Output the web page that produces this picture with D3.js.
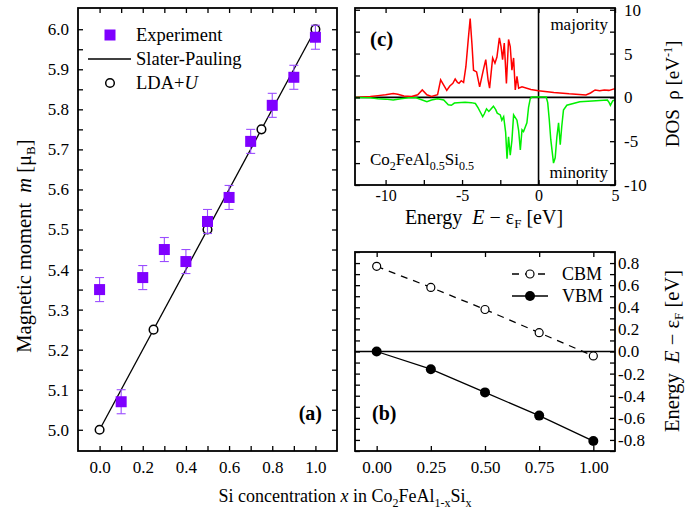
<!DOCTYPE html>
<html>
<head>
<meta charset="utf-8">
<script src="https://cdn.jsdelivr.net/npm/d3@7"></script>
<style>
  body { margin: 0; background: #fff; }
  text { font-family: 'Liberation Serif', 'Times New Roman', serif; }
</style>
</head>
<body>
<svg id="fig" width="687" height="518"></svg>
<script>
// ---- data ----
// (a) magnetic moment vs Si concentration
let expX = [0, 0.1, 0.2, 0.3, 0.4, 0.5, 0.6, 0.7, 0.8, 0.9, 1.0];
let expM = [5.35, 5.07, 5.38, 5.45, 5.42, 5.52, 5.58, 5.72, 5.81, 5.88, 5.98];
let expErr = [0.03, 0.03, 0.03, 0.03, 0.03, 0.03, 0.03, 0.03, 0.03, 0.03, 0.03];
let ldaX = [0, 0.25, 0.5, 0.75, 1.0];
let ldaM = [5.0, 5.25, 5.5, 5.75, 6.0];
let spX = [0, 1];
let spM = [5, 6];

// (b) band edges
let gapX = [0, 0.25, 0.5, 0.75, 1.0];
let cbm = [0.77, 0.58, 0.38, 0.17, -0.04];
let vbm = [0.0, -0.16, -0.37, -0.58, -0.81];

// (c) DOS of Co2FeAl0.5Si0.5
let majE = [-12, -11, -10.5, -10, -9.5, -9.2, -8.8, -8.3, -7.9, -7.6, -7.3, -7.0, -6.6, -6.4, -6.2, -6.0,
  -5.8, -5.6, -5.45, -5.3, -5.2, -5.05, -4.9, -4.75, -4.6, -4.47, -4.35, -4.25, -4.05, -3.85, -3.6, -3.45,
  -3.3, -3.2, -3.0, -2.85, -2.72, -2.56, -2.45, -2.35, -2.24, -2.1, -1.96, -1.85, -1.74, -1.63, -1.52,
  -1.41, -1.3, -1.08, -0.5, 0, 1.0, 2.0, 3.1, 3.4, 3.7, 4.0, 4.3, 4.6, 5.0];
let majD = [0.0, 0.1, 0.2, 0.3, 0.45, 0.35, 0.15, 0.1, 0.3, 0.85, 0.3, 0.1, 0.3, 2.0, 1.4, 0.8,
  1.3, 1.6, 2.1, 1.7, 1.6, 1.9, 1.7, 3.5, 6.5, 9.0, 6.0, 3.1, 2.9, 1.2, 3.2, 4.3,
  2.0, 1.05, 4.5, 3.9, 4.6, 6.8, 5.8, 4.3, 6.2, 1.6, 6.6, 5.8, 3.1, 4.5, 0.85,
  2.4, 1.05, 1.2, 0.9, 0.75, 0.55, 0.4, 0.28, 0.5, 0.85, 0.75, 0.85, 0.8, 1.0];
let minE = [-12, -11, -10.5, -10, -9.5, -9, -8.5, -8, -7.6, -7.3, -7.0, -6.6, -6.2, -5.9, -5.7, -5.5,
  -5.3, -4.8, -4.4, -4.13, -3.95, -3.8, -3.65, -3.55, -3.4, -3.25, -3.15, -2.95, -2.8, -2.7, -2.5, -2.4,
  -2.28, -2.15, -2.06, -1.96, -1.85, -1.74, -1.63, -1.41, -1.3, -1.19, -1.08, -0.98, -0.76, -0.65, -0.54,
  -0.43, 0.0, 0.5, 0.6, 0.7, 0.8, 0.98, 1.09, 1.2, 1.31, 1.42, 1.52, 1.63, 1.85, 2.7, 3.5, 4.5, 4.62,
  4.7, 4.85, 5.0];
let minD = [0, -0.05, -0.15, -0.2, -0.3, -0.15, -0.05, -0.05, -0.3, -0.5, -0.3, -0.15, -0.3, -0.85, -0.9, -0.65,
  -0.6, -0.55, -0.6, -0.7, -1.2, -1.7, -2.2, -1.9, -1.3, -1.6, -1.4, -1.0, -1.4, -1.8, -2.0, -2.6,
  -2.2, -4.0, -7.0, -4.5, -6.6, -4.9, -2.0, -2.6, -3.8, -6.0, -3.7, -3.9, -2.9, -1.1, -0.15,
  0.05, 0.05, 0.05, -0.6, -2.5, -4.8, -7.5, -6.9, -4.5, -2.9, -5.4, -3.3, -1.45, -0.9, -0.5, -0.4, -0.3, -0.6,
  -0.9, -0.4, -0.3];

let svg = d3.select('#fig');
svg.append('rect').attr('width', 687).attr('height', 518).attr('fill', '#fff');

let purple = '#7f00ff';

// inside ticks on all four sides, labels only where asked
let drawAxes = function (g, x, y, o) {
  let fmtX = (d) => o.xLab(d);
  let fmtY = (d) => o.yLab(d);
  let blank = () => '';
  let bottom = g.append('g')
    .attr('transform', 'translate(0,' + y.range()[0] + ')')
    .call(d3.axisBottom(x).tickValues(o.xTicks).tickSize(-5).tickSizeOuter(0).tickPadding(o.xPad).tickFormat(fmtX));
  g.append('g')
    .attr('transform', 'translate(0,' + y.range()[1] + ')')
    .call(d3.axisTop(x).tickValues(o.xTicks).tickSize(-5).tickSizeOuter(0).tickFormat(blank));
  let left = g.append('g')
    .attr('transform', 'translate(' + x.range()[0] + ',0)')
    .call(d3.axisLeft(y).tickValues(o.yTicks).tickSize(-5).tickSizeOuter(0).tickPadding(o.yPad)
      .tickFormat(o.yRight ? blank : fmtY));
  let right = g.append('g')
    .attr('transform', 'translate(' + x.range()[1] + ',0)')
    .call(d3.axisRight(y).tickValues(o.yTicks).tickSize(-5).tickSizeOuter(0).tickPadding(o.yPad)
      .tickFormat(o.yRight ? fmtY : blank));
  g.selectAll('.domain').remove();
  g.selectAll('.tick line').attr('stroke', '#000').attr('stroke-width', 1.3);
  g.selectAll('.tick text').attr('fill', '#000');
  [left, right].forEach((a) => a.attr('font-family', "'Liberation Serif', serif").attr('font-size', 17));
  bottom.attr('font-family', "'Liberation Serif', serif").attr('font-size', o.xFont || 17);
  g.append('rect')
    .attr('x', x.range()[0]).attr('y', y.range()[1])
    .attr('width', x.range()[1] - x.range()[0]).attr('height', y.range()[0] - y.range()[1])
    .attr('fill', 'none').attr('stroke', '#000').attr('stroke-width', 1.8);
};

// ================= panel (a) =================
let xa = d3.scaleLinear().domain([-0.1, 1.1]).range([78, 337]);
let ya = d3.scaleLinear().domain([4.947, 6.053]).range([451, 8]);
let ga = svg.append('g');

let line = d3.line();
ga.append('path')
  .attr('d', line(spX.map((v, i) => [xa(v), ya(spM[i])])))
  .attr('fill', 'none').attr('stroke', '#000').attr('stroke-width', 1.3);

ga.selectAll('.lda')
  .data(ldaX)
  .enter().append('circle')
  .attr('cx', (d) => xa(d))
  .attr('cy', (d, i) => ya(ldaM[i]))
  .attr('r', 4.3)
  .attr('fill', '#fff').attr('stroke', '#000').attr('stroke-width', 1.5);

let err = ga.selectAll('.err')
  .data(expX)
  .enter().append('g')
  .attr('stroke', '#9a4dff').attr('stroke-width', 1.1);
err.append('line')
  .attr('x1', (d) => xa(d)).attr('x2', (d) => xa(d))
  .attr('y1', (d, i) => ya(expM[i] - expErr[i])).attr('y2', (d, i) => ya(expM[i] + expErr[i]));
err.append('line')
  .attr('x1', (d) => xa(d) - 4.5).attr('x2', (d) => xa(d) + 4.5)
  .attr('y1', (d, i) => ya(expM[i] + expErr[i])).attr('y2', (d, i) => ya(expM[i] + expErr[i]));
err.append('line')
  .attr('x1', (d) => xa(d) - 4.5).attr('x2', (d) => xa(d) + 4.5)
  .attr('y1', (d, i) => ya(expM[i] - expErr[i])).attr('y2', (d, i) => ya(expM[i] - expErr[i]));

ga.selectAll('.exp')
  .data(expX)
  .enter().append('rect')
  .attr('x', (d) => xa(d) - 5.5)
  .attr('y', (d, i) => ya(expM[i]) - 5.5)
  .attr('width', 11).attr('height', 11)
  .attr('fill', purple);

drawAxes(ga, xa, ya, {
  xTicks: d3.range(0, 11).map((i) => i / 10),
  yTicks: d3.range(0, 21).map((i) => 5 + i / 20),
  xLab: (d) => (Math.round(d * 10) % 2 === 0) ? d.toFixed(1) : '',
  yLab: (d) => (Math.round(d * 20) % 2 === 0) ? d.toFixed(1) : '',
  xPad: 10, yPad: 9, yRight: false
});

// legend (a)
ga.append('rect').attr('x', 104.5).attr('y', 29.5).attr('width', 11).attr('height', 11).attr('fill', purple);
ga.append('line').attr('x1', 88).attr('x2', 131).attr('y1', 59).attr('y2', 59).attr('stroke', '#000').attr('stroke-width', 1.3);
ga.append('circle').attr('cx', 110).attr('cy', 83).attr('r', 4.3).attr('fill', '#fff').attr('stroke', '#000').attr('stroke-width', 1.5);
let legA = ga.append('g').attr('font-size', 18.5);
legA.append('text').attr('x', 136).attr('y', 41).text('Experiment');
legA.append('text').attr('x', 136).attr('y', 65).text('Slater-Pauling');
let lda = legA.append('text').attr('x', 136).attr('y', 89);
lda.append('tspan').text('LDA+');
lda.append('tspan').attr('font-style', 'italic').text('U');

ga.append('text').attr('x', 322).attr('y', 420).attr('text-anchor', 'end')
  .attr('font-size', 20).attr('font-weight', 'bold').text('(a)');

let yLabA = ga.append('text')
  .attr('transform', 'translate(31,246) rotate(-90)')
  .attr('text-anchor', 'middle').attr('font-size', 20.5);
yLabA.append('tspan').text('Magnetic moment\u00a0\u00a0');
yLabA.append('tspan').attr('font-style', 'italic').text('m');
yLabA.append('tspan').text('\u00a0[\u03bc');
yLabA.append('tspan').attr('font-size', 13).attr('dy', 4).text('B');
yLabA.append('tspan').attr('dy', -4).text(']');

let xLab = svg.append('text').attr('x', 345).attr('y', 502).attr('text-anchor', 'middle').attr('font-size', 18);
xLab.append('tspan').text('Si concentration ');
xLab.append('tspan').attr('font-style', 'italic').text('x');
xLab.append('tspan').text(' in Co');
xLab.append('tspan').attr('font-size', 12).attr('dy', 5).text('2');
xLab.append('tspan').attr('dy', -5).text('FeAl');
xLab.append('tspan').attr('font-size', 12).attr('dy', 5).text('1-x');
xLab.append('tspan').attr('dy', -5).text('Si');
xLab.append('tspan').attr('font-size', 12).attr('dy', 5).text('x');

// ================= panel (c) =================
let xc = d3.scaleLinear().domain([-12, 5]).range([355, 615]);
let yc = d3.scaleLinear().domain([-10, 10.2]).range([185, 8]);
let gc = svg.append('g');

gc.append('line').attr('x1', xc(-12)).attr('x2', xc(5)).attr('y1', yc(0)).attr('y2', yc(0))
  .attr('stroke', '#000').attr('stroke-width', 1.6);
gc.append('line').attr('x1', xc(0)).attr('x2', xc(0)).attr('y1', yc(-10)).attr('y2', yc(10.2))
  .attr('stroke', '#000').attr('stroke-width', 1.6);

gc.append('path')
  .attr('d', line(majE.map((e, i) => [xc(e), yc(majD[i])])))
  .attr('fill', 'none').attr('stroke', '#ff0000').attr('stroke-width', 1.5);
gc.append('path')
  .attr('d', line(minE.map((e, i) => [xc(e), yc(minD[i])])))
  .attr('fill', 'none').attr('stroke', '#00f000').attr('stroke-width', 1.5);

drawAxes(gc, xc, yc, {
  xTicks: d3.range(-10, 5.01, 2.5),
  yTicks: d3.range(-10, 10.01, 2.5),
  xLab: (d) => (d % 5 === 0) ? String(d) : '',
  yLab: (d) => (d % 5 === 0) ? String(d) : '',
  xPad: 5, yPad: 9, yRight: true, xFont: 16
});

let lc = gc.append('g').attr('font-size', 17);
lc.append('text').attr('x', 608).attr('y', 30).attr('text-anchor', 'end').text('majority');
lc.append('text').attr('x', 608).attr('y', 178).attr('text-anchor', 'end').text('minority');
gc.append('text').attr('x', 370).attr('y', 46).attr('font-size', 21).attr('font-weight', 'bold').text('(c)');
let comp = lc.append('text').attr('x', 370).attr('y', 165);
comp.append('tspan').text('Co');
comp.append('tspan').attr('font-size', 12).attr('dy', 5).text('2');
comp.append('tspan').attr('dy', -5).text('FeAl');
comp.append('tspan').attr('font-size', 12).attr('dy', 5).text('0.5');
comp.append('tspan').attr('dy', -5).text('Si');
comp.append('tspan').attr('font-size', 12).attr('dy', 5).text('0.5');

let xLabC = gc.append('text').attr('x', 484).attr('y', 224).attr('text-anchor', 'middle').attr('font-size', 20);
xLabC.append('tspan').text('Energy\u00a0\u00a0');
xLabC.append('tspan').attr('font-style', 'italic').text('E');
xLabC.append('tspan').text(' \u2212 \u03b5');
xLabC.append('tspan').attr('font-size', 13).attr('dy', 4).text('F');
xLabC.append('tspan').attr('dy', -4).text(' [eV]');

let yLabC = gc.append('text').attr('transform', 'translate(679,94) rotate(-90)')
  .attr('text-anchor', 'middle').attr('font-size', 19);
yLabC.append('tspan').text('DOS\u00a0\u00a0\u03c1 [eV');
yLabC.append('tspan').attr('font-size', 12).attr('dy', -7).text('-1');
yLabC.append('tspan').attr('dy', 7).text(']');

// ================= panel (b) =================
let xb = d3.scaleLinear().domain([-0.1, 1.1]).range([355, 615]);
let yb = d3.scaleLinear().domain([-0.9, 0.9]).range([451, 252]);
let gb = svg.append('g');

gb.append('line').attr('x1', xb(-0.1)).attr('x2', xb(1.1)).attr('y1', yb(0)).attr('y2', yb(0))
  .attr('stroke', '#000').attr('stroke-width', 1.5);
gb.append('path')
  .attr('d', line(gapX.map((v, i) => [xb(v), yb(cbm[i])])))
  .attr('fill', 'none').attr('stroke', '#000').attr('stroke-width', 1.3).attr('stroke-dasharray', '7,6');
gb.append('path')
  .attr('d', line(gapX.map((v, i) => [xb(v), yb(vbm[i])])))
  .attr('fill', 'none').attr('stroke', '#000').attr('stroke-width', 1.3);
gb.selectAll('.cbm').data(gapX).enter().append('circle')
  .attr('cx', (d) => xb(d)).attr('cy', (d, i) => yb(cbm[i])).attr('r', 4)
  .attr('fill', '#fff').attr('stroke', '#000').attr('stroke-width', 1.2);
gb.selectAll('.vbm').data(gapX).enter().append('circle')
  .attr('cx', (d) => xb(d)).attr('cy', (d, i) => yb(vbm[i])).attr('r', 5)
  .attr('fill', '#000');

drawAxes(gb, xb, yb, {
  xTicks: [0, 0.25, 0.5, 0.75, 1.0],
  yTicks: d3.range(-9, 10).map((i) => i / 10),
  xLab: (d) => d.toFixed(2),
  yLab: (d) => (Math.abs(Math.round(d * 10)) % 2 === 0) ? d.toFixed(1).replace('-0.0', '0.0') : '',
  xPad: 10, yPad: 3, yRight: true
});

// legend (b)
gb.append('line').attr('x1', 512).attr('x2', 548).attr('y1', 274).attr('y2', 274)
  .attr('stroke', '#000').attr('stroke-width', 1.3).attr('stroke-dasharray', '7,6');
gb.append('circle').attr('cx', 530).attr('cy', 274).attr('r', 4).attr('fill', '#fff').attr('stroke', '#000').attr('stroke-width', 1.2);
gb.append('line').attr('x1', 512).attr('x2', 548).attr('y1', 296).attr('y2', 296).attr('stroke', '#000').attr('stroke-width', 1.3);
gb.append('circle').attr('cx', 530).attr('cy', 296).attr('r', 5).attr('fill', '#000');
let lb = gb.append('g').attr('font-size', 18);
lb.append('text').attr('x', 562).attr('y', 280).text('CBM');
lb.append('text').attr('x', 562).attr('y', 302).text('VBM');
gb.append('text').attr('x', 372).attr('y', 420).attr('font-size', 20).attr('font-weight', 'bold').text('(b)');

let yLabB = gb.append('text').attr('transform', 'translate(679,351) rotate(-90)')
  .attr('text-anchor', 'middle').attr('font-size', 20.5);
yLabB.append('tspan').text('Energy\u00a0\u00a0');
yLabB.append('tspan').attr('font-style', 'italic').text('E');
yLabB.append('tspan').text(' \u2212 \u03b5');
yLabB.append('tspan').attr('font-size', 13).attr('dy', 4).text('F');
yLabB.append('tspan').attr('dy', -4).text(' [eV]');
</script>
</body>
</html>
